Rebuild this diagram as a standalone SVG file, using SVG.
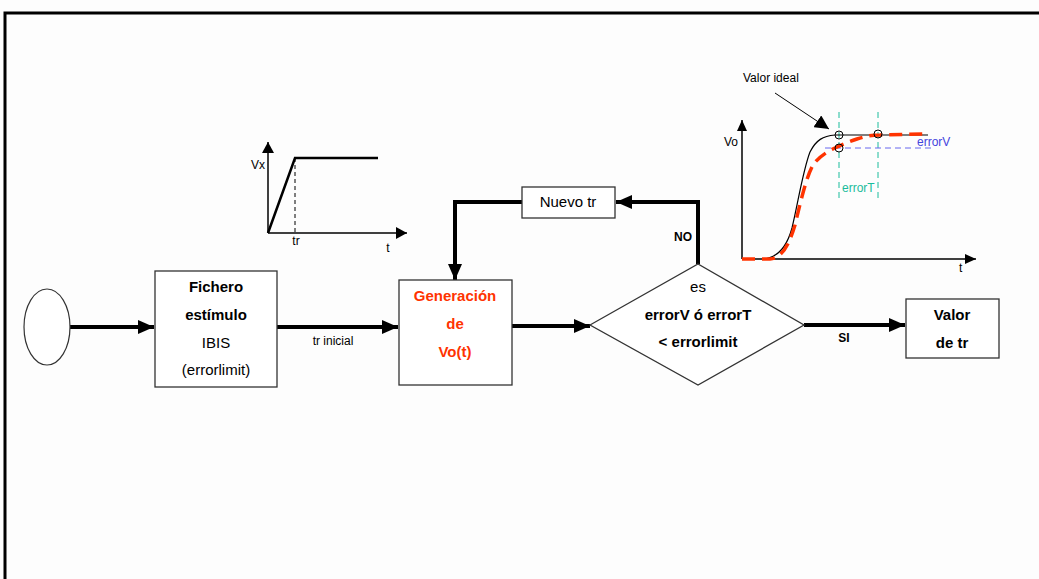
<svg xmlns="http://www.w3.org/2000/svg" width="1039" height="579" viewBox="0 0 1039 579">
<defs>
<marker id="big" markerUnits="userSpaceOnUse" markerWidth="18" markerHeight="14" refX="16" refY="7" orient="auto"><path d="M0,0 L16,7 L0,14 Z" fill="#000"/></marker>
<marker id="small" markerUnits="userSpaceOnUse" markerWidth="12" markerHeight="12" refX="11" refY="6" orient="auto"><path d="M0,0 L11,6 L0,12 Z" fill="#000"/></marker>
<marker id="thin" markerUnits="userSpaceOnUse" markerWidth="12" markerHeight="10" refX="11" refY="5" orient="auto"><path d="M0,0 L11,5 L0,10 Z" fill="#000"/></marker>
<marker id="pointer" markerUnits="userSpaceOnUse" markerWidth="16" markerHeight="14" refX="14" refY="7" orient="auto"><path d="M0,0 L14,7 L0,14 Z" fill="#000"/></marker>
</defs>
<style>
text{font-family:"Liberation Sans",Arial,sans-serif;fill:#000}
.box{fill:#fff;stroke:#333;stroke-width:1.3}
.t{font-size:15px;text-anchor:middle}
.b{font-weight:bold}
.lbl{font-size:12px;text-anchor:middle}
.g{font-size:12px}
.conn{fill:none;stroke:#000;stroke-width:4}
.ax{fill:none;stroke:#000;stroke-width:1.5}
</style>
<rect width="1039" height="579" fill="#fdfdfd"/>
<path d="M5,579 V13 H1039" fill="none" stroke="#000" stroke-width="3"/>

<g id="connectors">
<line x1="70" y1="327" x2="154" y2="327" class="conn" marker-end="url(#big)"/>
<line x1="277" y1="327" x2="398" y2="327" class="conn" marker-end="url(#big)"/>
<line x1="512" y1="326" x2="590" y2="326" class="conn" marker-end="url(#big)"/>
<line x1="804" y1="325" x2="905" y2="325" class="conn" marker-end="url(#big)"/>
<polyline points="698,264 698,202 616,202" class="conn" marker-end="url(#big)"/>
<polyline points="522,202 455,202 455,280" class="conn" marker-end="url(#big)"/>
<text x="333" y="345" class="lbl">tr inicial</text>
<text x="683" y="241" class="lbl b">NO</text>
<text x="844" y="342" class="lbl b">SI</text>
</g>

<g id="start"><ellipse cx="47" cy="327" rx="23" ry="38" fill="#fff" stroke="#333" stroke-width="1.2"/></g>

<g id="fichero">
<rect x="155" y="271" width="122" height="116" class="box"/>
<text x="216" y="292" class="t b">Fichero</text>
<text x="216" y="320" class="t b">estímulo</text>
<text x="216" y="348" class="t">IBIS</text>
<text x="216" y="375" class="t">(errorlimit)</text>
</g>

<g id="generacion">
<rect x="399" y="280" width="113" height="105" class="box"/>
<text x="455" y="301" class="t b" style="fill:#ff3300">Generación</text>
<text x="455" y="329" class="t b" style="fill:#ff3300">de</text>
<text x="455" y="357" class="t b" style="fill:#ff3300">Vo(t)</text>
</g>

<g id="nuevo">
<rect x="522" y="187" width="93" height="31" class="box"/>
<text x="568" y="207" class="t">Nuevo tr</text>
</g>

<g id="decision">
<polygon points="590,325 698,264 804,325 698,385" class="box"/>
<text x="698" y="292" class="t">es</text>
<text x="698" y="320" class="t b">errorV ó errorT</text>
<text x="698" y="347" class="t b">&lt; errorlimit</text>
</g>

<g id="valor">
<rect x="906" y="299" width="93" height="59" class="box"/>
<text x="952" y="320" class="t b">Valor</text>
<text x="952" y="348" class="t b">de tr</text>
</g>

<g id="graph-vx">
<polyline points="268,233 268,142" class="ax" marker-end="url(#small)"/>
<polyline points="268,233 407,233" class="ax" marker-end="url(#small)"/>
<polyline points="268,233 295,158 378,158" fill="none" stroke="#000" stroke-width="2.5"/>
<line x1="295" y1="158" x2="295" y2="233" stroke="#000" stroke-width="1" stroke-dasharray="4,3"/>
<text x="251" y="169" class="g">Vx</text>
<text x="296" y="245" class="g" style="text-anchor:middle">tr</text>
<text x="388" y="252" class="g" style="text-anchor:middle">t</text>
</g>

<g id="graph-vo">
<text x="743" y="82" class="g">Valor ideal</text>
<line x1="775" y1="93" x2="829" y2="129" stroke="#000" stroke-width="1" marker-end="url(#pointer)"/>
<line x1="839" y1="112" x2="839" y2="198" stroke="#1abc9c" stroke-width="1" stroke-dasharray="6,4"/>
<line x1="878" y1="112" x2="878" y2="198" stroke="#1abc9c" stroke-width="1" stroke-dasharray="6,4"/>
<line x1="825" y1="148" x2="932" y2="148" stroke="#6666ee" stroke-width="1" stroke-dasharray="6,4"/>
<polyline points="742,259 742,120" class="ax" marker-end="url(#thin)"/>
<polyline points="742,259 976,259" class="ax" marker-end="url(#thin)"/>
<path d="M763,259 C776,258 786,250 792,228 C798,203 803,170 810,152 C816,140 823,136 835,135 L928,135" fill="none" stroke="#000" stroke-width="1.2"/>
<path d="M742,259 L770,259 C782,258 789,245 795,225 C801,200 806,178 813,165 C822,152 840,145 857,139 C866,136 872,135 880,135 L923,134" fill="none" stroke="#ff3300" stroke-width="3.5" stroke-dasharray="13,7"/>
<circle cx="839" cy="135" r="4" fill="none" stroke="#000" stroke-width="1"/>
<circle cx="839" cy="148" r="4" fill="none" stroke="#000" stroke-width="1"/>
<circle cx="878" cy="134" r="4" fill="none" stroke="#000" stroke-width="1"/>
<text x="724" y="146" class="g">Vo</text>
<text x="959" y="272" class="g">t</text>
<text x="917" y="146" class="g" style="fill:#4444dd">errorV</text>
<text x="842" y="192" class="g" style="fill:#1abc9c">errorT</text>
</g>
</svg>
